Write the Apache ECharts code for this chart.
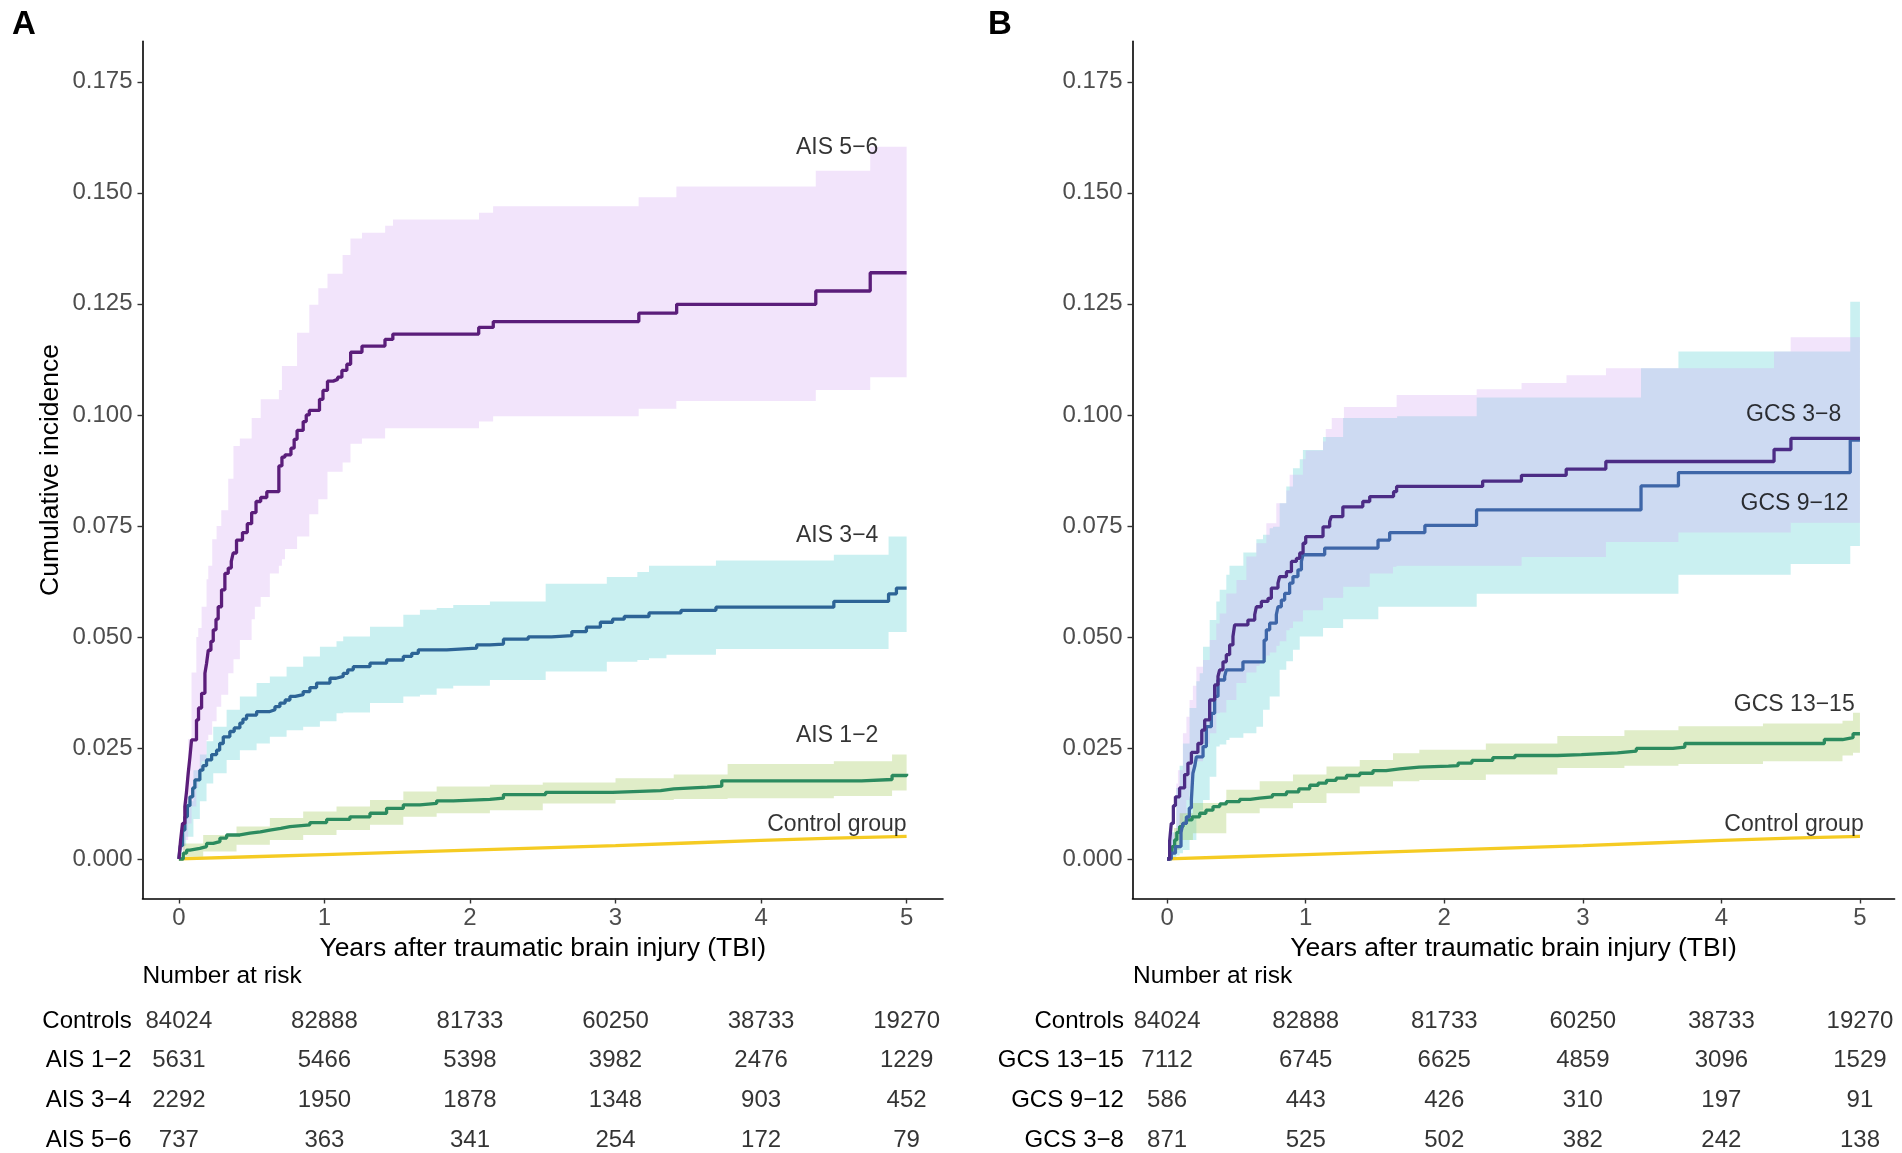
<!DOCTYPE html>
<html>
<head>
<meta charset="utf-8">
<title>Cumulative incidence after TBI</title>
<script src="https://cdn.jsdelivr.net/npm/echarts@6/dist/echarts.min.js"></script>
<style>
  html, body { margin: 0; padding: 0; background: #fff; }
  #main { width: 1902px; height: 1153px; }
</style>
</head>
<body>
<div id="main"></div>
<script>
// ---- data: [years, cumulative incidence] (step = level from that time on)
var xTicks = [0, 1, 2, 3, 4, 5];
var yTicks = [0, 0.025, 0.05, 0.075, 0.1, 0.125, 0.15, 0.175];

var control = [[0,0],[0.5,0.0005],[1,0.001],[1.5,0.0015],[2,0.002],[2.5,0.0025],[3,0.003],[3.5,0.0036],[4,0.0042],[4.5,0.0047],[5,0.0051]];

// panel A
var ais56 = [[0,0],[0.012,0.0043],[0.025,0.008],[0.041,0.0118],[0.052,0.015],[0.064,0.0193],[0.076,0.023],[0.087,0.0268],[0.121,0.0313],[0.135,0.034],[0.156,0.0373],[0.179,0.0418],[0.19,0.044],[0.202,0.047],[0.22,0.049],[0.236,0.0516],[0.255,0.054],[0.27,0.0568],[0.293,0.0606],[0.316,0.0643],[0.339,0.0655],[0.36,0.067],[0.373,0.0689],[0.396,0.0718],[0.437,0.0735],[0.47,0.0755],[0.5,0.078],[0.53,0.0805],[0.562,0.0814],[0.604,0.0827],[0.687,0.0885],[0.708,0.0905],[0.729,0.091],[0.77,0.0925],[0.792,0.0945],[0.812,0.0965],[0.854,0.0985],[0.875,0.1],[0.896,0.101],[0.966,0.1035],[0.99,0.1055],[1.021,0.1076],[1.06,0.108],[1.091,0.1085],[1.12,0.11],[1.154,0.1114],[1.18,0.1141],[1.258,0.1155],[1.416,0.117],[1.47,0.1182],[2.06,0.1197],[2.16,0.121],[3.16,0.1229],[3.42,0.1249],[4.376,0.1279],[4.75,0.132],[5,0.132]];
var ais34 = [[0,0],[0.01,0.003],[0.025,0.0065],[0.041,0.0095],[0.058,0.012],[0.076,0.014],[0.095,0.016],[0.11,0.0178],[0.144,0.02],[0.165,0.021],[0.19,0.0223],[0.225,0.0235],[0.259,0.0245],[0.28,0.026],[0.305,0.0275],[0.35,0.0287],[0.38,0.0295],[0.419,0.0306],[0.44,0.0315],[0.465,0.0324],[0.534,0.0332],[0.625,0.0336],[0.66,0.0343],[0.694,0.0351],[0.73,0.0358],[0.763,0.0366],[0.8,0.037],[0.854,0.0377],[0.9,0.0386],[0.946,0.0396],[1.038,0.0407],[1.08,0.0411],[1.129,0.0418],[1.16,0.0426],[1.198,0.0433],[1.313,0.0441],[1.427,0.0448],[1.542,0.0456],[1.6,0.0463],[1.645,0.0471],[1.84,0.0475],[2.046,0.0482],[2.137,0.0484],[2.23,0.0495],[2.4,0.05],[2.56,0.0503],[2.7,0.0512],[2.8,0.0522],[2.896,0.0533],[2.98,0.054],[3.06,0.0546],[3.23,0.0554],[3.45,0.056],[3.69,0.0567],[4.5,0.058],[4.876,0.0597],[4.93,0.061],[5,0.061]];
var ais12 = [[0,0],[0.03,0.0013],[0.053,0.002],[0.076,0.0024],[0.144,0.0028],[0.19,0.0035],[0.236,0.0039],[0.282,0.0047],[0.328,0.0054],[0.419,0.0058],[0.488,0.0061],[0.56,0.0065],[0.625,0.0069],[0.7,0.0073],[0.763,0.0077],[0.9,0.0082],[1.015,0.0089],[1.175,0.0095],[1.313,0.0103],[1.427,0.0114],[1.542,0.0122],[1.656,0.0125],[1.771,0.0131],[1.885,0.0134],[2.137,0.0137],[2.23,0.0145],[2.52,0.015],[2.98,0.0154],[3.31,0.0158],[3.4,0.0162],[3.63,0.0164],[3.73,0.0176],[4.69,0.0179],[4.9,0.0188],[5,0.0192]];

// confidence bands: [years, lower, upper]
var ais56Band = [[0,0,0],[0.02,0.002,0.007],[0.041,0.0043,0.014],[0.064,0.008,0.027],[0.087,0.0118,0.042],[0.12,0.016,0.05],[0.133,0.0193,0.052],[0.156,0.022,0.0568],[0.19,0.0268,0.063],[0.202,0.028,0.066],[0.229,0.031,0.072],[0.259,0.0343,0.075],[0.291,0.037,0.0785],[0.339,0.0418,0.0856],[0.375,0.045,0.093],[0.419,0.0493,0.0947],[0.5,0.054,0.0993],[0.522,0.0568,0.0993],[0.562,0.059,0.1035],[0.625,0.0643,0.1035],[0.687,0.066,0.1056],[0.708,0.0675,0.111],[0.729,0.0698,0.111],[0.812,0.0726,0.1185],[0.896,0.0776,0.1248],[0.958,0.081,0.1285],[1.021,0.0872,0.1318],[1.125,0.0893,0.136],[1.179,0.0935,0.1397],[1.258,0.0947,0.141],[1.417,0.097,0.1426],[1.471,0.097,0.144],[2.062,0.0985,0.1455],[2.159,0.0997,0.147],[3.159,0.1014,0.149],[3.418,0.1031,0.1514],[4.376,0.1056,0.155],[4.75,0.1085,0.1604],[5,0.1085,0.1604]];
var ais34Band = [[0,0,0],[0.02,0.003,0.008],[0.05,0.005,0.013],[0.1,0.009,0.02],[0.144,0.013,0.0235],[0.19,0.017,0.0265],[0.236,0.0193,0.0298],[0.328,0.0223,0.0336],[0.419,0.0245,0.0366],[0.534,0.026,0.0396],[0.625,0.0275,0.0411],[0.74,0.029,0.0433],[0.854,0.0298,0.0456],[0.969,0.031,0.0478],[1.083,0.0328,0.049],[1.129,0.033,0.0501],[1.313,0.0351,0.0523],[1.542,0.0366,0.055],[1.656,0.037,0.0561],[1.771,0.0384,0.0565],[1.885,0.039,0.0572],[2.137,0.0403,0.058],[2.52,0.0422,0.062],[2.94,0.0444,0.0635],[3.15,0.0448,0.0646],[3.23,0.0452,0.066],[3.35,0.046,0.066],[3.69,0.0473,0.0672],[4.5,0.0473,0.0685],[4.876,0.0511,0.0726],[5,0.0511,0.0726]];
var ais12Band = [[0,0,0],[0.03,0.0005,0.0035],[0.167,0.0017,0.0054],[0.396,0.0032,0.0073],[0.625,0.0043,0.0092],[0.854,0.0054,0.0107],[1.083,0.0065,0.0118],[1.313,0.0077,0.0133],[1.542,0.0095,0.0152],[1.771,0.0103,0.0163],[2.137,0.011,0.0167],[2.5,0.0125,0.0172],[3.0,0.0133,0.0182],[3.4,0.0135,0.019],[3.77,0.0137,0.0214],[4.5,0.0142,0.022],[4.9,0.0154,0.0235],[5,0.0154,0.0235]];

// panel B
var gcs38 = [[0,0],[0.018,0.004],[0.03,0.008],[0.045,0.012],[0.06,0.014],[0.09,0.016],[0.126,0.019],[0.15,0.0216],[0.175,0.024],[0.222,0.026],[0.25,0.029],[0.271,0.0313],[0.307,0.0358],[0.343,0.0392],[0.367,0.0411],[0.379,0.0426],[0.403,0.0444],[0.427,0.046],[0.451,0.0482],[0.475,0.0501],[0.487,0.0527],[0.583,0.0538],[0.632,0.055],[0.644,0.0568],[0.68,0.058],[0.728,0.0587],[0.752,0.061],[0.8,0.0621],[0.812,0.0636],[0.861,0.0647],[0.897,0.067],[0.933,0.0677],[0.957,0.0689],[0.981,0.0711],[1.0,0.0726],[1.125,0.0748],[1.173,0.076],[1.185,0.0771],[1.268,0.0793],[1.412,0.0805],[1.462,0.0816],[1.634,0.0827],[1.656,0.0839],[2.277,0.0851],[2.557,0.0864],[2.88,0.0878],[3.166,0.0895],[4.38,0.0922],[4.502,0.0947],[5,0.0947]];
var gcs912 = [[0,0],[0.03,0.0013],[0.06,0.0028],[0.1,0.006],[0.114,0.008],[0.139,0.0095],[0.16,0.0115],[0.175,0.0133],[0.186,0.0193],[0.2,0.021],[0.211,0.023],[0.259,0.0253],[0.283,0.0298],[0.319,0.0328],[0.343,0.0366],[0.367,0.0403],[0.415,0.0411],[0.427,0.0426],[0.547,0.0444],[0.7,0.0493],[0.716,0.0516],[0.74,0.0531],[0.788,0.055],[0.8,0.0568],[0.824,0.0583],[0.848,0.0598],[0.884,0.0621],[0.908,0.0636],[0.944,0.0651],[0.969,0.067],[0.98,0.0685],[1.137,0.07],[1.522,0.0718],[1.606,0.0735],[1.86,0.0751],[2.233,0.0786],[3.42,0.084],[3.69,0.087],[4.93,0.0943],[5,0.0943]];
var gcs1315 = [[0,0],[0.02,0.0015],[0.035,0.0028],[0.054,0.0043],[0.07,0.006],[0.09,0.0073],[0.115,0.008],[0.139,0.0088],[0.18,0.0095],[0.235,0.0103],[0.28,0.011],[0.331,0.0118],[0.38,0.0124],[0.427,0.0129],[0.523,0.0134],[0.6,0.0137],[0.668,0.014],[0.76,0.0145],[0.861,0.0151],[0.95,0.0158],[1.029,0.0166],[1.09,0.0171],[1.15,0.0177],[1.22,0.0182],[1.294,0.0188],[1.39,0.0193],[1.486,0.0199],[1.58,0.0203],[1.679,0.0207],[1.82,0.0209],[2.03,0.021],[2.1,0.0216],[2.2,0.0222],[2.35,0.0228],[2.51,0.0233],[2.816,0.0235],[2.99,0.0239],[3.25,0.0243],[3.386,0.0249],[3.65,0.0252],[3.736,0.026],[4.743,0.0269],[4.874,0.0273],[4.95,0.0282],[5,0.0282]];

var gcs38Band = [[0,0,0],[0.03,0.002,0.0058],[0.066,0.005,0.017],[0.078,0.0058,0.02],[0.114,0.01,0.0283],[0.139,0.0133,0.032],[0.162,0.016,0.0358],[0.186,0.0208,0.039],[0.211,0.022,0.0433],[0.259,0.026,0.0448],[0.307,0.0283,0.0493],[0.355,0.0328,0.053],[0.379,0.033,0.0553],[0.427,0.0358,0.0598],[0.5,0.0396,0.0628],[0.572,0.042,0.0681],[0.644,0.0435,0.0711],[0.668,0.045,0.0711],[0.716,0.0458,0.0756],[0.74,0.0465,0.0756],[0.788,0.048,0.0801],[0.812,0.049,0.0801],[0.86,0.0515,0.083],[0.884,0.052,0.0865],[0.908,0.0535,0.0865],[0.98,0.056,0.09],[1.0,0.056,0.092],[1.125,0.0588,0.094],[1.145,0.0588,0.0968],[1.188,0.0588,0.0993],[1.27,0.0613,0.0993],[1.276,0.0613,0.1018],[1.462,0.0643,0.1018],[1.63,0.0658,0.1018],[1.656,0.066,0.1045],[2.234,0.066,0.1058],[2.558,0.068,0.1072],[2.882,0.068,0.1089],[3.167,0.0714,0.1105],[3.69,0.0735,0.1105],[4.38,0.0735,0.1143],[4.5,0.0757,0.1175],[5,0.0757,0.1175]];
var gcs912Band = [[0,0,0],[0.03,0.0003,0.006],[0.066,0.0008,0.016],[0.09,0.0013,0.021],[0.114,0.002,0.026],[0.162,0.0043,0.034],[0.211,0.0095,0.04],[0.235,0.011,0.0418],[0.259,0.0133,0.0478],[0.307,0.0185,0.0538],[0.355,0.0253,0.058],[0.379,0.0258,0.0606],[0.427,0.0268,0.064],[0.45,0.0273,0.066],[0.55,0.0283,0.069],[0.644,0.0298,0.072],[0.692,0.0336,0.073],[0.74,0.0366,0.0745],[0.764,0.0366,0.0748],[0.812,0.0426,0.0801],[0.86,0.0445,0.0839],[0.908,0.0471,0.088],[0.957,0.0501,0.09],[0.98,0.0501,0.0921],[1.125,0.052,0.095],[1.27,0.054,0.0993],[1.524,0.0568,0.0993],[1.66,0.0568,0.0997],[2.234,0.0597,0.1039],[3.42,0.0597,0.1105],[3.69,0.064,0.1143],[4.5,0.0664,0.1143],[4.93,0.0705,0.1255],[5,0.0705,0.1255]];
var gcs1315Band = [[0,0,0],[0.05,0.002,0.007],[0.09,0.0043,0.0103],[0.186,0.0058,0.0126],[0.427,0.0103,0.0156],[0.668,0.0114,0.0175],[0.908,0.0126,0.019],[1.15,0.0148,0.0208],[1.39,0.0163,0.0223],[1.63,0.0175,0.0238],[1.82,0.0178,0.0246],[2.3,0.019,0.026],[2.816,0.0205,0.0277],[3.3,0.021,0.029],[3.69,0.0214,0.0299],[4.3,0.022,0.0305],[4.874,0.0233,0.0311],[4.95,0.0239,0.0329],[5,0.0239,0.0329]];

// number at risk
var riskRowsA = ['Controls', 'AIS 1\u22122', 'AIS 3\u22124', 'AIS 5\u22126'];
var riskRowsB = ['Controls', 'GCS 13\u221215', 'GCS 9\u221212', 'GCS 3\u22128'];
var riskControls = [84024, 82888, 81733, 60250, 38733, 19270];
var riskAis12 = [5631, 5466, 5398, 3982, 2476, 1229];
var riskAis34 = [2292, 1950, 1878, 1348, 903, 452];
var riskAis56 = [737, 363, 341, 254, 172, 79];
var riskGcs1315 = [7112, 6745, 6625, 4859, 3096, 1529];
var riskGcs912 = [586, 443, 426, 310, 197, 91];
var riskGcs38 = [871, 525, 502, 382, 242, 138];

// curve labels: [years, incidence, text]
var labelsA = [[4.806, 0.1601, 'AIS 5\u22126'], [4.806, 0.0729, 'AIS 3\u22124'], [4.806, 0.0277, 'AIS 1\u22122'], [5.0, 0.0078, 'Control group']];
var labelsB = [[4.865, 0.1000, 'GCS 3\u22128'], [4.918, 0.0800, 'GCS 9\u221212'], [4.962, 0.0348, 'GCS 13\u221215'], [5.027, 0.0077, 'Control group']];

// ---- colours
var cPurple = '#5b1d7a', cPurpleB = '#4c2c85', cBlue = '#2d6496', cBlueB = '#3e66a8', cGreen = '#2c8b5f', cYellow = '#f5cb23';
var fLav = 'rgba(212,165,242,0.3)', fCyan = 'rgba(78,205,208,0.3)', fGreen = 'rgba(152,195,72,0.3)';
var FONT = '"Liberation Sans", Arial, Helvetica, sans-serif';

var myChart = echarts.init(document.getElementById('main'));

// step-shaped band polygon drawn in one piece
function bandSeries(band, fill, axis) {
    return {
        type: 'custom', xAxisIndex: axis, yAxisIndex: axis, silent: true, z: 1,
        data: band,
        renderItem: function (params, api) {
            if (params.dataIndex !== 0) return;
            var up = [], lo = [];
            for (var i = 0; i < band.length; i++) {
                var t = band[i][0];
                var next = i + 1 < band.length ? band[i + 1][0] : t;
                up.push(api.coord([t, band[i][2]]), api.coord([next, band[i][2]]));
                lo.push(api.coord([t, band[i][1]]), api.coord([next, band[i][1]]));
            }
            return { type: 'polygon', shape: { points: up.concat(lo.reverse()) }, style: { fill: fill } };
        }
    };
}

function stepLine(data, color, axis, step) {
    return {
        type: 'line', xAxisIndex: axis, yAxisIndex: axis, data: data,
        step: step === false ? false : 'end', showSymbol: false, silent: true, z: 3,
        lineStyle: { color: color, width: 3.3 }
    };
}

function labelSeries(list, axis) {
    return {
        type: 'scatter', xAxisIndex: axis, yAxisIndex: axis, symbolSize: 0, silent: true, z: 4,
        data: list.map(function (d) { return { value: [d[0], d[1]], name: d[2] }; }),
        label: { show: true, position: 'left', distance: 0, formatter: '{b}', fontSize: 23, color: '#000', fontFamily: FONT }
    };
}

function riskSeries(rows, tables, axis) {
    var data = [];
    rows.forEach(function (r, i) {
        xTicks.forEach(function (t, j) { data.push([t, r, tables[i][j]]); });
    });
    return {
        type: 'scatter', xAxisIndex: axis, yAxisIndex: axis, symbolSize: 0, silent: true,
        data: data,
        label: { show: true, position: 'inside', formatter: function (p) { return p.value[2]; }, fontSize: 24, color: '#000', fontFamily: FONT }
    };
}

function plotX(grid) {
    return {
        type: 'value', gridIndex: grid, min: -0.25, max: 5.25,
        name: 'Years after traumatic brain injury (TBI)', nameLocation: 'middle', nameGap: 33,
        nameTextStyle: { fontSize: 26.5, color: '#000', fontFamily: FONT },
        axisLine: { onZero: false, lineStyle: { color: '#000', width: 1.6 } },
        axisTick: { customValues: xTicks, length: 5, lineStyle: { color: '#333', width: 1.4 } },
        axisLabel: { customValues: xTicks, fontSize: 24, color: '#4d4d4d', margin: 8, fontFamily: FONT },
        splitLine: { show: false }
    };
}

function plotY(grid, withName) {
    return {
        type: 'value', gridIndex: grid, min: -0.0089, max: 0.1841,
        name: withName ? 'Cumulative incidence' : '', nameLocation: 'middle', nameGap: 78,
        nameTextStyle: { fontSize: 26.5, color: '#000', fontFamily: FONT },
        axisLine: { show: true, onZero: false, lineStyle: { color: '#000', width: 1.6 } },
        axisTick: { show: true, customValues: yTicks, length: 5, lineStyle: { color: '#333', width: 1.4 } },
        axisLabel: { customValues: yTicks, fontSize: 24, color: '#4d4d4d', margin: 10, fontFamily: FONT,
            formatter: function (v) { return v.toFixed(3); } },
        splitLine: { show: false }
    };
}

function riskX(grid) {
    return { type: 'value', gridIndex: grid, min: -0.25, max: 5.25, show: false };
}

function riskY(grid, rows, margin) {
    return {
        type: 'category', gridIndex: grid, data: rows, inverse: true, boundaryGap: false,
        axisLine: { show: false }, axisTick: { show: false },
        axisLabel: { fontSize: 24, color: '#000', margin: margin, fontFamily: FONT }
    };
}

myChart.setOption({
    animation: false,
    textStyle: { fontFamily: FONT },
    grid: [
        { left: 142.5, right: 959, top: 41.4, bottom: 254.5 },
        { left: 1132.5, right: 7.4, top: 41.4, bottom: 254.5 },
        { left: 142.5, right: 959, top: 1021, height: 119 },
        { left: 1132.5, right: 7.4, top: 1021, height: 119 }
    ],
    xAxis: [plotX(0), plotX(1), riskX(2), riskX(3)],
    yAxis: [plotY(0, true), plotY(1, false), riskY(2, riskRowsA, 10.8), riskY(3, riskRowsB, 8.6)],
    graphic: [
        { type: 'text', left: 12, top: 8, style: { text: 'A', font: 'bold 33px ' + FONT, fill: '#000' } },
        { type: 'text', left: 988, top: 8, style: { text: 'B', font: 'bold 33px ' + FONT, fill: '#000' } },
        { type: 'text', left: 142.5, top: 964, style: { text: 'Number at risk', font: '24.5px ' + FONT, fill: '#000' } },
        { type: 'text', left: 1133, top: 964, style: { text: 'Number at risk', font: '24.5px ' + FONT, fill: '#000' } }
    ],
    series: [
        // panel A
        bandSeries(ais34Band, fCyan, 0),
        bandSeries(ais56Band, fLav, 0),
        bandSeries(ais12Band, fGreen, 0),
        stepLine(control, cYellow, 0, false),
        stepLine(ais12, cGreen, 0),
        stepLine(ais34, cBlue, 0),
        stepLine(ais56, cPurple, 0),
        labelSeries(labelsA, 0),
        // panel B
        bandSeries(gcs912Band, fCyan, 1),
        bandSeries(gcs38Band, fLav, 1),
        bandSeries(gcs1315Band, fGreen, 1),
        stepLine(control, cYellow, 1, false),
        stepLine(gcs1315, cGreen, 1),
        stepLine(gcs912, cBlueB, 1),
        stepLine(gcs38, cPurpleB, 1),
        labelSeries(labelsB, 1),
        // risk tables
        riskSeries(riskRowsA, [riskControls, riskAis12, riskAis34, riskAis56], 2),
        riskSeries(riskRowsB, [riskControls, riskGcs1315, riskGcs912, riskGcs38], 3)
    ]
});
</script>
</body>
</html>
